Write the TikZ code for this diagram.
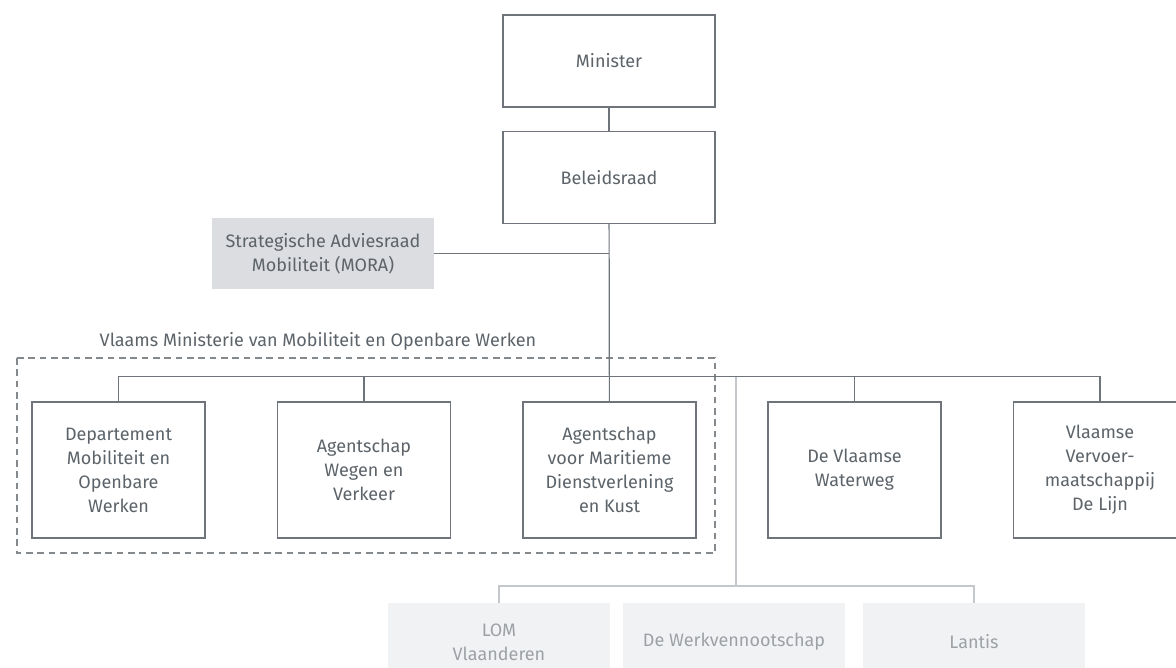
\documentclass[tikz,border=0pt]{standalone}
\usepackage{fontspec}
\setmainfont{Fira Sans}
\usetikzlibrary{calc}

\definecolor{lijn}{HTML}{6E747A}
\definecolor{tekst}{HTML}{5C6369}
\definecolor{licht}{HTML}{C4C8CC}
\definecolor{moragrijs}{HTML}{DCDDE0}
\definecolor{vaag}{HTML}{F1F2F4}
\definecolor{vaagtekst}{HTML}{9DA1A6}

\tikzset{
  orgbox/.style={draw=lijn, line width=0.9pt, fill=white, text=tekst, align=center,
    font=\fontsize{13.5}{18}\selectfont, inner sep=0pt},
  agbox/.style={orgbox, minimum width=129.75pt, minimum height=102pt},
  topbox/.style={orgbox, minimum width=159pt, minimum height=69pt},
  greybox/.style={fill=moragrijs, text=tekst, align=center,
    font=\fontsize{13.5}{18}\selectfont, minimum width=166.5pt, minimum height=53.25pt},
  fadedbox/.style={fill=vaag, text=vaagtekst, align=center,
    font=\fontsize{13.5}{18}\selectfont, minimum width=166.5pt, minimum height=58pt},
  conn/.style={draw=lijn, line width=0.9pt},
  fadedconn/.style={draw=licht, line width=0.9pt},
}

\begin{document}
\begin{tikzpicture}[x=0.75pt, y=-0.75pt]
        \clip (0,0) rectangle (1176,667);
        \fill[white] (0,0) rectangle (1176,667);

          \node[topbox] at (609, 61)  (minister) {Minister};
          \node[topbox] at (609,177.5) (raad) {Beleidsraad};
          \node[greybox] at (323,253.5) (mora) {Strategische Adviesraad\\Mobiliteit (MORA)};

          % Vlaams Ministerie van Mobiliteit en Openbare Werken
          \draw[draw=lijn!85, line width=0.9pt, dash pattern=on 5pt off 3.5pt] (17,358) rectangle (715,553);
          \node[text=tekst, font=\fontsize{13.5}{18}\selectfont] at (318,341) (mow) {Vlaams Ministerie van Mobiliteit en Openbare Werken};

          \node[agbox] at (118.5,470) (dep) {Departement\\Mobiliteit en\\Openbare\\Werken};
          \node[agbox] at (364,470)   (awv) {Agentschap\\Wegen en\\Verkeer};
          \node[agbox] at (609.5,470) (mdk) {Agentschap\\voor Maritieme\\Dienstverlening\\en Kust};
          \node[agbox] at (854.5,470) (dvw) {De Vlaamse\\Waterweg};
          \node[agbox] at (1100,470)  (dlijn) {Vlaamse\\Vervoer-\\maatschappij\\De Lijn};

          \node[fadedbox] at (499,642) (lom) {LOM\\Vlaanderen};
          \node[fadedbox] at (734,642) (wvs) {De Werkvennootschap};
          \node[fadedbox] at (974,642) (lantis) {Lantis};

          \coordinate (split) at (736,377);
          \coordinate (hub) at (736,586);

          \draw[fadedconn] (split) -- (hub);
          \draw[fadedconn] (lom.north) -- ++(0,-17) -| (lantis.north);

					\draw[conn] (minister) -- (raad);
					\draw[conn] (raad) -- (mdk);
					\draw[conn] (mora.east) -- (mora.east -| raad.south);
					\draw[conn] (dep.north) -- ++(0,-25) -| (dlijn.north);
					\draw[conn] (awv.north) -- ++(0,-25);
					\draw[conn] (dvw.north) -- ++(0,-25);
        \end{tikzpicture}
\end{document}
